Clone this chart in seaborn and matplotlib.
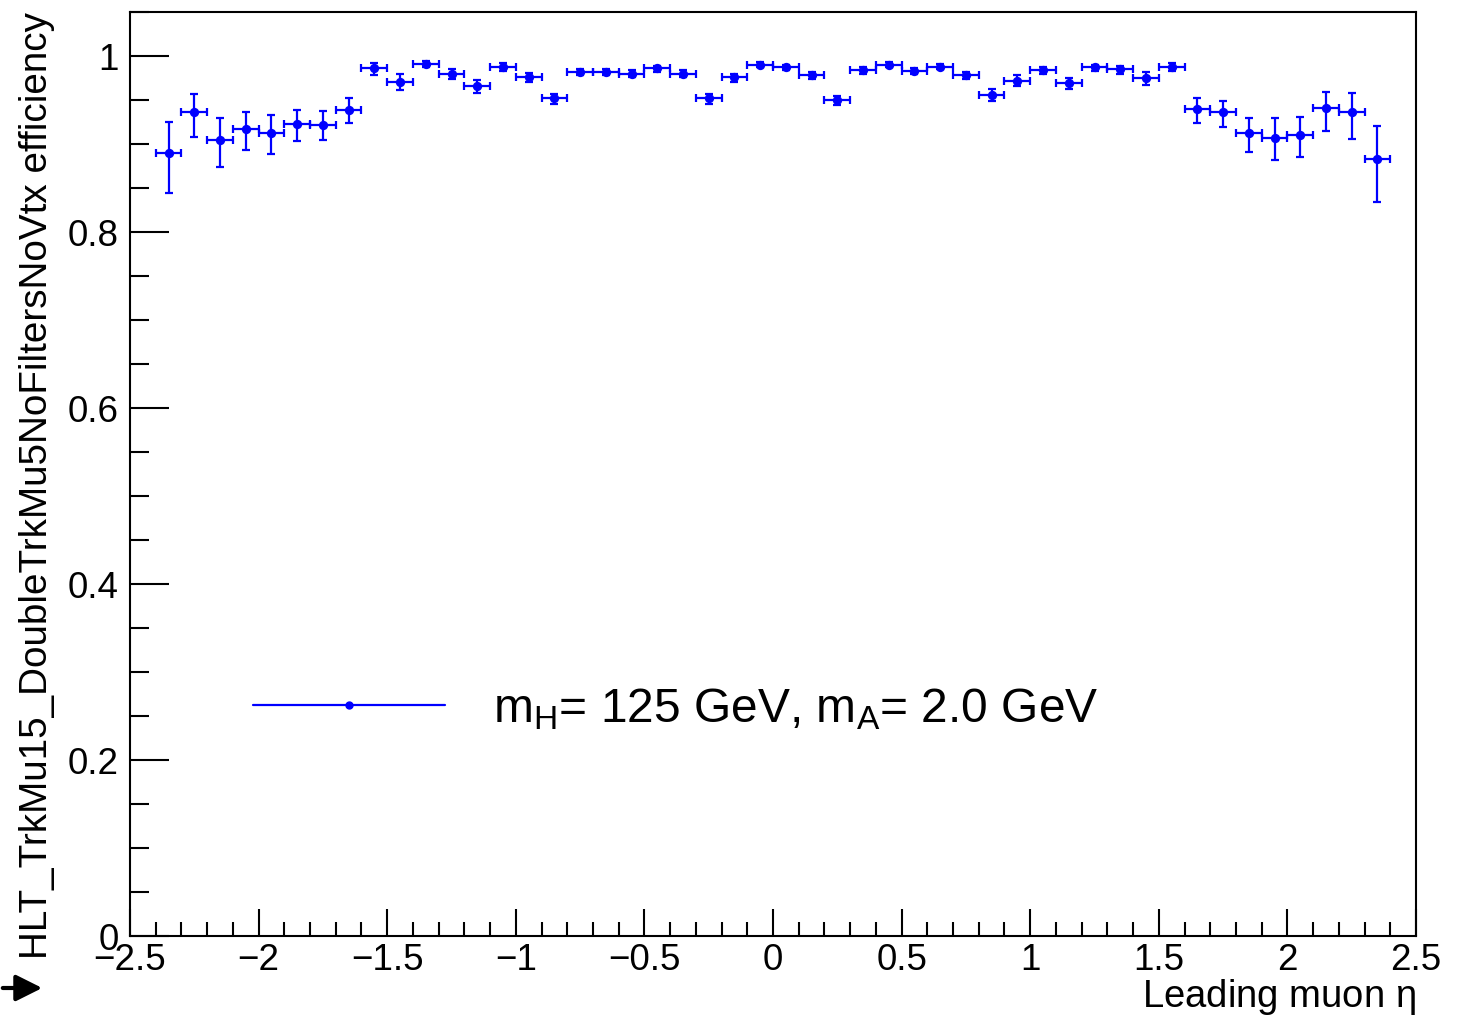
import numpy as np
import pandas as pd
import matplotlib
matplotlib.use("Agg")
import matplotlib.pyplot as plt
from matplotlib.lines import Line2D
from matplotlib.ticker import MultipleLocator
import seaborn as sns

# leading muon eta bin centres (bin width 0.1)
eta_centers = [-2.35, -2.25, -2.15, -2.05, -1.95, -1.85, -1.75, -1.65,
               -1.55, -1.45, -1.35, -1.25, -1.15, -1.05, -0.95, -0.85,
               -0.75, -0.65, -0.55, -0.45, -0.35, -0.25, -0.15, -0.05,
               0.05, 0.15, 0.25, 0.35, 0.45, 0.55, 0.65, 0.75,
               0.85, 0.95, 1.05, 1.15, 1.25, 1.35, 1.45, 1.55,
               1.65, 1.75, 1.85, 1.95, 2.05, 2.15, 2.25, 2.35]
bin_half_width = 0.05

efficiency = [0.890, 0.936, 0.905, 0.917, 0.913, 0.923, 0.922, 0.939,
              0.986, 0.971, 0.991, 0.980, 0.966, 0.988, 0.976, 0.952,
              0.982, 0.982, 0.980, 0.986, 0.980, 0.952, 0.976, 0.990,
              0.987, 0.978, 0.950, 0.984, 0.990, 0.983, 0.988, 0.978,
              0.956, 0.972, 0.984, 0.969, 0.987, 0.985, 0.975, 0.988,
              0.940, 0.936, 0.912, 0.907, 0.910, 0.941, 0.936, 0.883]

err_low = [0.046, 0.028, 0.031, 0.024, 0.024, 0.020, 0.018, 0.015,
           0.008, 0.010, 0.004, 0.006, 0.008, 0.005, 0.006, 0.006,
           0.004, 0.004, 0.004, 0.004, 0.004, 0.006, 0.005, 0.003,
           0.003, 0.004, 0.006, 0.004, 0.003, 0.004, 0.003, 0.004,
           0.007, 0.006, 0.005, 0.007, 0.004, 0.005, 0.008, 0.005,
           0.016, 0.017, 0.021, 0.025, 0.025, 0.026, 0.030, 0.049]

err_high = [0.035, 0.021, 0.025, 0.019, 0.020, 0.016, 0.015, 0.013,
            0.006, 0.008, 0.003, 0.005, 0.007, 0.004, 0.005, 0.005,
            0.003, 0.003, 0.004, 0.003, 0.004, 0.005, 0.004, 0.003,
            0.003, 0.004, 0.005, 0.003, 0.003, 0.003, 0.003, 0.004,
            0.006, 0.006, 0.004, 0.006, 0.003, 0.004, 0.007, 0.004,
            0.012, 0.013, 0.017, 0.022, 0.021, 0.018, 0.022, 0.037]

legend_label = r"m$_{\rm H}$= 125 GeV, m$_{\rm A}$= 2.0 GeV"

df = pd.DataFrame({"eta": eta_centers, "eff": efficiency,
                   "lo": err_low, "hi": err_high})

sns.set_theme(style="ticks")
plt.rcParams["font.family"] = ["Liberation Sans", "DejaVu Sans"]
plt.rcParams["mathtext.fontset"] = "custom"
plt.rcParams["mathtext.rm"] = "Liberation Sans"
plt.rcParams["mathtext.it"] = "Liberation Sans:italic"
plt.rcParams["mathtext.default"] = "regular"
plt.rcParams["text.color"] = "black"
plt.rcParams["axes.labelcolor"] = "black"

blue = "#0000ff"

fig = plt.figure(figsize=(14.69, 10.17), dpi=100)
ax = fig.add_axes([130 / 1469, 1 - 936 / 1017, 1286 / 1469, 924 / 1017])

# error bars
ax.errorbar(df["eta"], df["eff"], xerr=bin_half_width,
            yerr=[df["lo"], df["hi"]], fmt="none", ecolor=blue,
            elinewidth=1.6, capsize=3, capthick=1.6, zorder=2)
# points
sns.scatterplot(data=df, x="eta", y="eff", ax=ax, color=blue, s=45,
                edgecolor=blue, linewidth=0, zorder=3, legend=False)

ax.set_xlim(-2.5, 2.5)
ax.set_ylim(0, 1.05)

ax.xaxis.set_minor_locator(MultipleLocator(0.1))
ax.yaxis.set_minor_locator(MultipleLocator(0.05))
ax.set_xticks([-2.5, -2, -1.5, -1, -0.5, 0, 0.5, 1, 1.5, 2, 2.5])
ax.set_xticklabels(["\u22122.5", "\u22122", "\u22121.5", "\u22121", "\u22120.5",
                    "0", "0.5", "1", "1.5", "2", "2.5"])
ax.set_yticks([0, 0.2, 0.4, 0.6, 0.8, 1.0])
ax.set_yticklabels(["0", "0.2", "0.4", "0.6", "0.8", "1"])

ax.tick_params(axis="both", which="both", direction="in", width=1.5,
               colors="black", labelsize=26.5, top=False, right=False)
ax.tick_params(axis="y", which="major", length=28, pad=8)
ax.tick_params(axis="y", which="minor", length=14)
ax.tick_params(axis="x", which="major", length=19.5, pad=5)
ax.tick_params(axis="x", which="minor", length=10)

for sp in ax.spines.values():
    sp.set_linewidth(1.5)
    sp.set_color("black")

ax.set_xlabel("Leading muon $\\eta$", fontsize=27.5, loc="right")
ax.xaxis.set_label_coords(1.0, -0.044)
ax.set_ylabel("HLT_TrkMu15_DoubleTrkMu5NoFiltersNoVtx efficiency",
              fontsize=27.8, loc="top")
ax.yaxis.set_label_coords(-0.058, 1.0)

handle = Line2D([], [], color=blue, lw=1.6, marker="o", ms=5)
ax.legend([handle], [legend_label], loc="center left",
          bbox_to_anchor=(0.0956, 0.2457), frameon=False, fontsize=34.5,
          handlelength=4.0, handletextpad=1.0, borderpad=0,
          borderaxespad=0)

# the little arrow in the bottom left corner
ax.annotate("", xy=(45, 29), xytext=(0, 29), xycoords="figure pixels",
            textcoords="figure pixels",
            arrowprops=dict(arrowstyle="-|>", lw=3, color="black",
                            mutation_scale=40), annotation_clip=False)

fig.savefig("out.png", dpi=100)
